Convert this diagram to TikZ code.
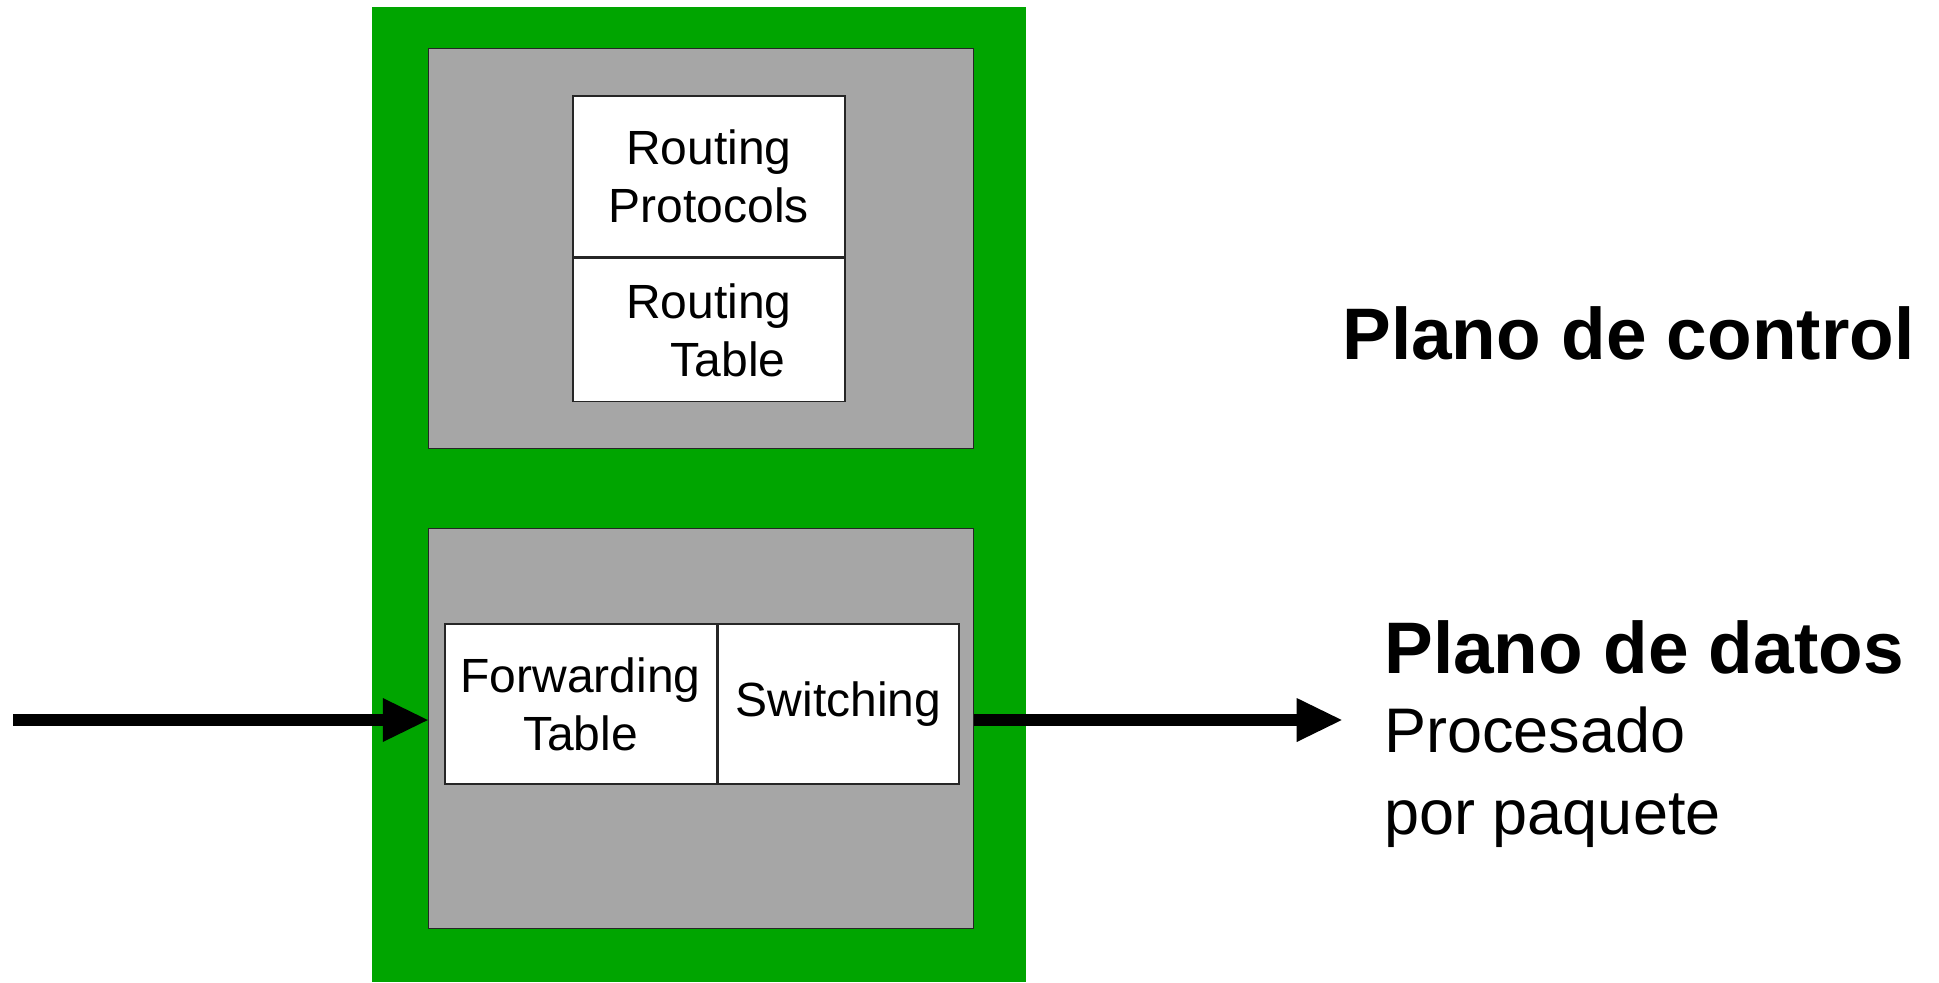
\documentclass[tikz,border=0pt]{standalone}
\usepackage{fontspec}
\setmainfont{Liberation Sans}
\usetikzlibrary{positioning,arrows.meta}
\definecolor{routergreen}{RGB}{0,165,0}
\definecolor{planegray}{RGB}{166,166,166}
\newcommand\boxfont{\fontsize{24}{29}\selectfont}
\newcommand\titlefont{\fontsize{36.5}{44}\selectfont\bfseries}
\newcommand\notefont{\fontsize{31.5}{40}\selectfont}

\begin{document}
\begin{tikzpicture}[x=0.5pt, y=-0.5pt,
    plane/.style={draw=black!85, line width=0.8pt, fill=planegray, inner sep=0pt,
      minimum width=272.5pt, minimum height=200pt},
    cell/.style={draw=black!85, line width=0.8pt, fill=white, inner sep=0pt,
      align=center, font=\boxfont},
    label/.style={inner sep=0pt, anchor=base west},
    flow/.style={line width=5.85pt,
      -{Triangle[length=22.5pt, width=22pt, line width=0pt]}}]
      \useasboundingbox (0,0) rectangle (1939,982);
      \fill [routergreen] (372,7) rectangle (1025.5,982);

      \node [plane] (ctrl) at (701.1,248.3) {};
      \node [plane] (data) at (701.1,728.3) {};

      % control plane
      \node [cell, minimum width=136.1pt, minimum height=80.35pt] (proto) at (708.9,176.35) {Routing\\Protocols};
      \node [cell, minimum width=136.1pt, minimum height=71.65pt, below=0pt of proto] (rtable) {Routing\\\hspace*{0.8em}Table};

      % data plane
      \node [cell, minimum width=135.9pt, minimum height=80pt] (fwd) at (580.6,704) {Forwarding\\Table};
      \node [cell, minimum width=120.5pt, minimum height=80pt, right=0pt of fwd] (switch) {Switching};

      \coordinate (in) at (13,720);
      \coordinate (out) at (1341.7,720);
      \draw [flow] (in) -- (in -| data.west);
      \draw [flow] (data.east |- in) -- (out);

      \node [label, font=\titlefont] (control) at (1342,359.3) {Plano de control};
      \node [label, font=\titlefont] (datos) at (1384,673.3) {Plano de datos};
      \node [label, font=\notefont] (proc) at (1384,752.7) {Procesado};
      \node [label, font=\notefont] (paq) at (1384,834.3) {por paquete};
    \end{tikzpicture}
\end{document}
